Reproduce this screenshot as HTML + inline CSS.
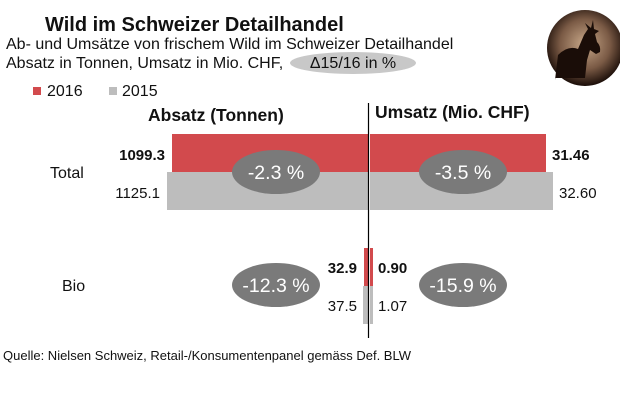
<!DOCTYPE html><html><head><style>body{margin:0;background:#fff}svg{display:block}text{font-family:"Liberation Sans",Arial,sans-serif}</style></head><body>
<svg width="620" height="420" viewBox="0 0 620 420">
<defs><radialGradient id="g" cx="0.5" cy="0.45" r="0.55"><stop offset="0" stop-color="#c9a98a"/><stop offset="0.6" stop-color="#7a5a45"/><stop offset="1" stop-color="#1a0d08"/></radialGradient></defs>
<circle cx="585" cy="48" r="38" fill="url(#g)"/>
<path d="M555 80 l3 -25 q10 -10 20 -6 l6 -14 l4 -6 l-3 -6 l6 5 l2 -8 l1 9 l5 2 l-4 3 l2 8 q4 4 3 10 l-4 2 l-6 -4 l-3 10 l-2 18 l-30 0 z" fill="#1a0d08"/>
<text x="45" y="31" font-size="20" font-weight="bold" fill="#111">Wild im Schweizer Detailhandel</text>
<text x="6" y="49" font-size="16" fill="#111">Ab- und Umsätze von frischem Wild im Schweizer Detailhandel</text>
<ellipse cx="353" cy="63" rx="63" ry="11" fill="#c8c8c8"/>
<text x="6" y="68" font-size="16" fill="#111">Absatz in Tonnen, Umsatz in Mio. CHF,</text>
<text x="353" y="68" font-size="16" fill="#111" text-anchor="middle">Δ15/16 in %</text>
<rect x="33" y="87" width="8" height="8" fill="#d24a4d"/><text x="47" y="96" font-size="16" fill="#111">2016</text>
<rect x="109" y="87" width="8" height="8" fill="#bdbdbd"/><text x="122" y="96" font-size="16" fill="#111">2015</text>
<text x="148" y="121" font-size="17.5" font-weight="bold" fill="#111">Absatz (Tonnen)</text>
<text x="375" y="118" font-size="17.5" font-weight="bold" fill="#111">Umsatz (Mio. CHF)</text>
<rect x="172" y="134" width="196" height="38" fill="#d24a4d"/>
<rect x="370" y="134" width="176" height="38" fill="#d24a4d"/>
<rect x="167" y="172" width="201" height="38" fill="#bdbdbd"/>
<rect x="370" y="172" width="183" height="38" fill="#bdbdbd"/>
<rect x="364" y="248" width="4" height="38" fill="#d24a4d"/>
<rect x="370" y="248" width="3" height="38" fill="#d24a4d"/>
<rect x="363" y="286" width="5" height="38" fill="#bdbdbd"/>
<rect x="370" y="286" width="3" height="38" fill="#bdbdbd"/>
<line x1="368.5" y1="103" x2="368.5" y2="338" stroke="#000" stroke-width="1.2"/>
<g fill="#7a7a7a"><ellipse cx="276" cy="172" rx="44" ry="22"/><ellipse cx="463" cy="172" rx="44" ry="22"/><ellipse cx="276" cy="285" rx="44" ry="22"/><ellipse cx="463" cy="285" rx="44" ry="22"/></g>
<g font-size="19.5" fill="#fff" text-anchor="middle"><text x="276" y="179">-2.3 %</text><text x="463" y="179">-3.5 %</text><text x="276" y="292">-12.3 %</text><text x="463" y="292">-15.9 %</text></g>
<g font-size="15" fill="#111"><text x="165" y="160" text-anchor="end" font-weight="bold">1099.3</text><text x="160" y="198" text-anchor="end">1125.1</text>
<text x="552" y="160" font-weight="bold">31.46</text><text x="559" y="198">32.60</text>
<text x="357" y="273" text-anchor="end" font-weight="bold">32.9</text><text x="357" y="311" text-anchor="end">37.5</text>
<text x="378" y="273" font-weight="bold">0.90</text><text x="378" y="311">1.07</text>
<text x="50" y="178" font-size="16">Total</text><text x="62" y="291" font-size="16">Bio</text></g>
<text x="3" y="360" font-size="13" fill="#111">Quelle: Nielsen Schweiz, Retail-/Konsumentenpanel gemäss Def. BLW</text>
</svg></body></html>
